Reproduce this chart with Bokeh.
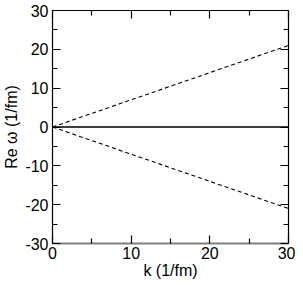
from bokeh.plotting import figure
from bokeh.models import Range1d, LinearAxis, FixedTicker, CustomJSTickFormatter
from bokeh.embed import file_html
from bokeh.resources import INLINE

# Data
k = [0, 5, 10, 15, 20, 25, 30]
re_upper = [0, 3.5, 7.0, 10.5, 14.0, 17.5, 21.0]
re_lower = [0, -3.5, -7.0, -10.5, -14.0, -17.5, -21.0]
re_zero = [0, 0, 0, 0, 0, 0, 0]

x_ticks = [0, 10, 20, 30]
x_minor = [5, 15, 25]
y_ticks = [-30, -20, -10, 0, 10, 20, 30]
y_minor = [-25, -15, -5, 5, 15, 25]

FONT = "Liberation Sans"

p = figure(width=295, height=282, output_backend="svg", toolbar_location=None,
           x_range=Range1d(0, 30), y_range=Range1d(-30, 30),
           min_border_left=52, min_border_right=7, min_border_top=10, min_border_bottom=39,
           x_axis_label="k (1/fm)", y_axis_label="Re ω (1/fm)")
p.outline_line_color = None
p.grid.visible = False

p.line(k, re_zero, line_color="black", line_width=1.6)
p.line(k, re_upper, line_color="black", line_width=1.1, line_dash="4 3")
p.line(k, re_lower, line_color="black", line_width=1.1, line_dash="4 3")

def style_axis(ax, ticks, minor, labels=True):
    ax.ticker = FixedTicker(ticks=ticks, minor_ticks=minor)
    ax.major_tick_in = 8
    ax.major_tick_out = 0
    ax.minor_tick_in = 5
    ax.minor_tick_out = 0
    ax.axis_line_color = "black"
    ax.axis_line_width = 1.2
    ax.major_tick_line_color = "black"
    ax.major_tick_line_width = 1.2
    ax.minor_tick_line_color = "black"
    ax.minor_tick_line_width = 1.2
    if labels:
        ax.formatter = CustomJSTickFormatter(code="return tick.toFixed(0)")
        ax.major_label_text_font = FONT
        ax.major_label_text_font_size = "16px"
        ax.major_label_text_color = "black"
        ax.axis_label_text_font = FONT
        ax.axis_label_text_font_size = "16px"
        ax.axis_label_text_font_style = "normal"
        ax.axis_label_text_color = "black"
    else:
        ax.formatter = CustomJSTickFormatter(code="return ''")
        ax.major_label_standoff = 0
        ax.axis_label_standoff = 0

style_axis(p.xaxis[0], x_ticks, x_minor)
style_axis(p.yaxis[0], y_ticks, y_minor)
p.xaxis[0].axis_line_color = "#7f7f7f"
p.xaxis[0].axis_line_width = 2
p.xaxis[0].major_label_standoff = 3
p.xaxis[0].axis_label_standoff = 0
p.yaxis[0].major_label_standoff = 4
p.yaxis[0].axis_label_standoff = 2

top = LinearAxis()
right = LinearAxis()
style_axis(top, x_ticks, x_minor, labels=False)
style_axis(right, y_ticks, y_minor, labels=False)
p.add_layout(top, "above")
p.add_layout(right, "right")

open("out.html", "w").write(file_html(p, INLINE))
